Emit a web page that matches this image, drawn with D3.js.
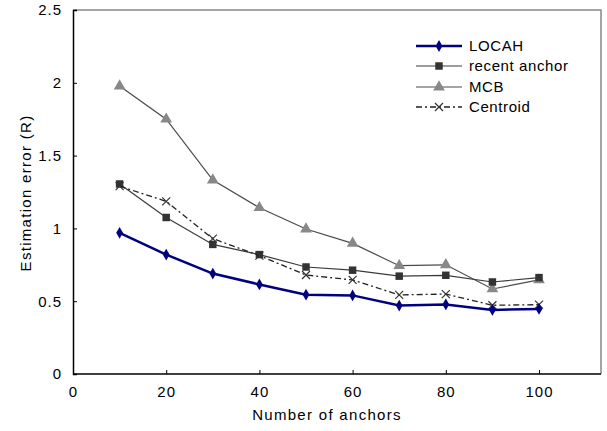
<!DOCTYPE html>
<html>
<head>
<meta charset="utf-8">
<script src="https://cdn.jsdelivr.net/npm/d3@7"></script>
<style>
  body { margin: 0; background: #fff; }
  text { font-family: "Liberation Sans", Arial, sans-serif; fill: #000; }
</style>
</head>
<body>
<svg id="chart" width="607" height="431"></svg>
<script>
// values
const anchors = [10, 20, 30, 40, 50, 60, 70, 80, 90, 100];
const locah = [0.97, 0.82, 0.69, 0.615, 0.545, 0.54, 0.47, 0.478, 0.44, 0.447];
const recentAnchor = [1.305, 1.075, 0.89, 0.82, 0.735, 0.713, 0.672, 0.678, 0.632, 0.662];
const mcb = [1.978, 1.75, 1.332, 1.142, 0.996, 0.897, 0.744, 0.75, 0.584, 0.646];
const centroid = [1.29, 1.186, 0.93, 0.813, 0.68, 0.646, 0.543, 0.549, 0.472, 0.476];
const xTicks = [0, 20, 40, 60, 80, 100];
const yTicks = [0, 0.5, 1, 1.5, 2, 2.5];

const series = [
  { name: "LOCAH", values: locah, color: "#000080", width: 2.5, dash: null, marker: "diamond", mcolor: "#000080" },
  { name: "recent anchor", values: recentAnchor, color: "#3a3a3a", width: 1.2, dash: null, marker: "square", mcolor: "#333" },
  { name: "MCB", values: mcb, color: "#4a4a4a", width: 1.2, dash: null, marker: "triangle", mcolor: "#888" },
  { name: "Centroid", values: centroid, color: "#222", width: 1.3, dash: "6,3,2,3", marker: "cross", mcolor: "#333" }
];

const svg = d3.select("#chart");
const m = { left: 73, right: 601, top: 10, bottom: 374 };

const x = d3.scaleLinear().domain([0, 113.3]).range([m.left, m.right]);
const y = d3.scaleLinear().domain([0, 2.5]).range([m.bottom, m.top]);

// plot frame (top/right in gray)
svg.append("path")
  .attr("d", `M${m.left},${m.top}H${m.right}V${m.bottom}`)
  .attr("fill", "none").attr("stroke", "#888").attr("stroke-width", 1.5);

const xAxis = d3.axisBottom(x).tickValues(xTicks).tickSize(-4).tickPadding(12).tickFormat(d3.format("d"));
const yAxis = d3.axisLeft(y).tickValues(yTicks).tickSize(-4).tickPadding(11).tickFormat(d => String(d));

const gx = svg.append("g").attr("transform", `translate(0,${m.bottom})`).call(xAxis);
const gy = svg.append("g").attr("transform", `translate(${m.left},0)`).call(yAxis);
[gx, gy].forEach(g => {
  g.select(".domain").attr("stroke", "#000").attr("stroke-width", 1.5);
  g.selectAll(".tick line").attr("stroke", "#000");
  g.selectAll(".tick text").attr("font-size", 15).attr("letter-spacing", 1)
    .attr("font-family", "'Liberation Sans', Arial, sans-serif").attr("fill", "#000");
});
gx.select(".domain").attr("d", `M${m.left},0H${m.right}`);

svg.append("text")
  .attr("x", 327).attr("y", 420).attr("text-anchor", "middle")
  .attr("font-size", 15).attr("letter-spacing", 1.3)
  .text("Number of anchors");

svg.append("text")
  .attr("transform", "translate(31,193) rotate(-90)")
  .attr("text-anchor", "middle")
  .attr("font-size", 15).attr("letter-spacing", 1.3)
  .text("Estimation error (R)");

const line = d3.line().x((d, i) => x(anchors[i])).y(d => y(d));

function drawMarker(g, type, cx, cy, color) {
  if (type === "diamond") {
    g.append("path").attr("d", d3.symbol(d3.symbolDiamond, 40)()).attr("transform", `translate(${cx},${cy})`).attr("fill", color);
  } else if (type === "square") {
    g.append("path").attr("d", d3.symbol(d3.symbolSquare, 56)()).attr("transform", `translate(${cx},${cy})`).attr("fill", color);
  } else if (type === "triangle") {
    g.append("path").attr("d", d3.symbol(d3.symbolTriangle, 60)()).attr("transform", `translate(${cx},${cy})`).attr("fill", color);
  } else {
    g.append("path").attr("d", `M${cx - 4},${cy - 4}L${cx + 4},${cy + 4}M${cx - 4},${cy + 4}L${cx + 4},${cy - 4}`)
      .attr("stroke", color).attr("stroke-width", 1.2);
  }
}

// draw back-to-front
[series[2], series[1], series[3], series[0]].forEach(s => {
  const g = svg.append("g");
  g.append("path").datum(s.values)
    .attr("d", line).attr("fill", "none")
    .attr("stroke", s.color).attr("stroke-width", s.width)
    .attr("stroke-dasharray", s.dash);
  s.values.forEach((v, i) => drawMarker(g, s.marker, x(anchors[i]), y(v), s.mcolor));
});

// legend
const legendY = [46, 66, 87, 107];
series.forEach((s, i) => {
  const g = svg.append("g");
  const ly = legendY[i];
  g.append("line").attr("x1", 416).attr("x2", 462).attr("y1", ly).attr("y2", ly)
    .attr("stroke", s.color).attr("stroke-width", s.width).attr("stroke-dasharray", s.dash);
  drawMarker(g, s.marker, 439, ly, s.mcolor);
  g.append("text").attr("x", 469).attr("y", ly + 5).attr("font-size", 15)
    .attr("letter-spacing", 0.6).text(s.name);
});
</script>
</body>
</html>
